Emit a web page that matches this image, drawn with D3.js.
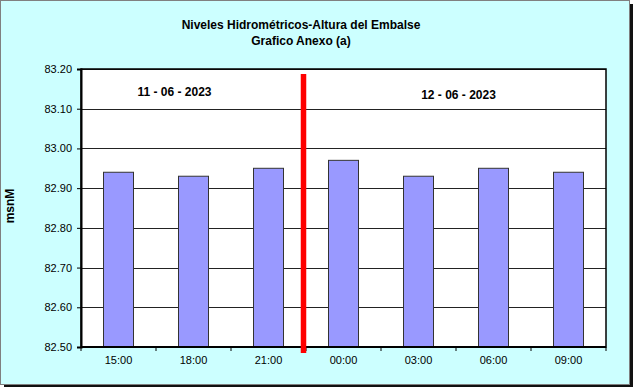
<!DOCTYPE html>
<html>
<head>
<meta charset="utf-8">
<script src="https://cdn.jsdelivr.net/npm/d3@7"></script>
<style>
  body { margin: 0; background: #fff; }
  text { font-family: "Liberation Sans", Arial, sans-serif; }
</style>
</head>
<body>
<script>
var horas = ["15:00", "18:00", "21:00", "00:00", "03:00", "06:00", "09:00"];
var niveles = [82.94, 82.93, 82.95, 82.97, 82.93, 82.95, 82.94];
var fechas = ["11 - 06 - 2023", "12 - 06 - 2023"];
var yTicks = [82.5, 82.6, 82.7, 82.8, 82.9, 83.0, 83.1, 83.2];

var W = 633, H = 387;
var margin = { top: 69, right: 27, bottom: 40, left: 81 };
var width = 606 - margin.left;
var height = 347 - margin.top;

var svg = d3.select("body").append("svg")
    .attr("width", W)
    .attr("height", H);

// shadow + frame
svg.append("rect").attr("x", 4).attr("y", 4).attr("width", W - 4).attr("height", H - 4).attr("fill", "#111");
svg.append("rect")
    .attr("x", 0.5).attr("y", 0.5)
    .attr("width", 629).attr("height", 384)
    .attr("fill", "#ccffff")
    .attr("stroke", "#808080");

svg.append("text")
    .attr("x", 301).attr("y", 29)
    .attr("text-anchor", "middle")
    .style("font-size", "12px").style("font-weight", "bold")
    .text("Niveles Hidrométricos-Altura del Embalse");
svg.append("text")
    .attr("x", 301).attr("y", 45)
    .attr("text-anchor", "middle")
    .style("font-size", "12px").style("font-weight", "bold")
    .text("Grafico Anexo (a)");

var g = svg.append("g")
    .attr("transform", "translate(" + margin.left + "," + margin.top + ")");

var x = d3.scaleBand().domain(horas).range([0, width]).paddingInner(0.6).paddingOuter(0.3);
var y = d3.scaleLinear().domain([82.5, 83.2]).range([height, 0]);

g.append("rect").attr("width", width).attr("height", height).attr("fill", "#fff");

// gridlines
g.selectAll(".grid").data(yTicks.slice(1))
  .enter().append("line")
    .attr("x1", 0).attr("x2", width)
    .attr("y1", function (d) { return Math.round(y(d)) + 0.5; })
    .attr("y2", function (d) { return Math.round(y(d)) + 0.5; })
    .attr("stroke", "#222").attr("stroke-width", 1);

// bars
g.selectAll(".bar").data(niveles)
  .enter().append("rect")
    .attr("x", function (d, i) { return x(horas[i]); })
    .attr("y", function (d) { return y(d); })
    .attr("width", x.bandwidth())
    .attr("height", function (d) { return height - y(d); })
    .attr("fill", "#9999ff")
    .attr("stroke", "#333")
    .attr("stroke-width", 1);

g.append("rect").attr("width", width).attr("height", height)
    .attr("fill", "none").attr("stroke", "#000").attr("stroke-width", 1.5);

// y axis
var yAxis = d3.axisLeft(y).tickValues(yTicks).tickSize(4).tickPadding(5)
    .tickFormat(d3.format(".2f"));
var gY = g.append("g").call(yAxis);
gY.select(".domain").attr("stroke-width", 2);
gY.selectAll("text").style("font-size", "11px").attr("fill", "#000");

// x axis: ticks at category boundaries
var step = x.step();
var gX = g.append("g").attr("transform", "translate(0," + height + ")");
gX.append("line").attr("x1", 0).attr("x2", width).attr("stroke", "#000").attr("stroke-width", 2);
gX.selectAll(".tk").data(d3.range(horas.length + 1))
  .enter().append("line")
    .attr("x1", function (i) { return i * step; })
    .attr("x2", function (i) { return i * step; })
    .attr("y1", 0).attr("y2", 4)
    .attr("stroke", "#000");
gX.selectAll(".lbl").data(horas)
  .enter().append("text")
    .attr("x", function (d) { return x(d) + x.bandwidth() / 2; })
    .attr("y", 17)
    .attr("text-anchor", "middle")
    .style("font-size", "11px")
    .text(function (d) { return d; });

// date separator
var sepX = x("21:00") + x.bandwidth() / 2 + step / 2 - 2.5;
g.append("line")
    .attr("x1", sepX).attr("x2", sepX)
    .attr("y1", 5).attr("y2", height + 6)
    .attr("stroke", "#ff0000").attr("stroke-width", 5.5);

// date labels
g.append("text")
    .attr("x", x("18:00") + x.bandwidth() / 2 - 19)
    .attr("y", 27)
    .attr("text-anchor", "middle")
    .style("font-size", "12px").style("font-weight", "bold")
    .text(fechas[0]);
g.append("text")
    .attr("x", x("03:00") + x.bandwidth() / 2 + 40)
    .attr("y", 30)
    .attr("text-anchor", "middle")
    .style("font-size", "12px").style("font-weight", "bold")
    .text(fechas[1]);

svg.append("text")
    .attr("transform", "translate(14," + (margin.top + height / 2 - 2) + ") rotate(-90)")
    .attr("text-anchor", "middle")
    .style("font-size", "12px").style("font-weight", "bold")
    .text("msnM");
</script>
</body>
</html>
